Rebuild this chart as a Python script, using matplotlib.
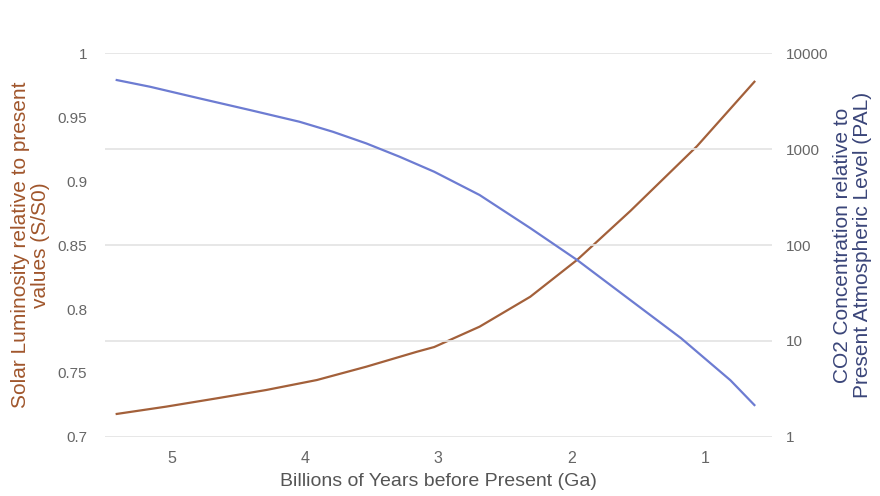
import matplotlib
matplotlib.use("Agg")
import matplotlib.pyplot as plt
from matplotlib.ticker import FixedLocator, FixedFormatter

plt.rcParams["font.family"] = ["Liberation Sans", "DejaVu Sans"]

# Age (Ga before present) and solar luminosity relative to today (S/S0)
lum_age = [5.41, 5.04, 4.66, 4.29, 3.91, 3.54, 3.16, 3.03, 2.69, 2.31, 1.96, 1.56, 1.06, 0.63]
lum_val = [0.718, 0.7237, 0.7302, 0.7367, 0.7445, 0.7549, 0.7666, 0.7703,
           0.7862, 0.8096, 0.8383, 0.8766, 0.9273, 0.9776]

# Age (Ga) and CO2 concentration relative to present atmospheric level (PAL)
co2_age = [5.41, 5.16, 4.79, 4.41, 4.04, 3.79, 3.54, 3.29, 3.03, 2.69, 2.31,
           1.96, 1.56, 1.18, 0.81, 0.63]
co2_val = [5236, 4457, 3373, 2547, 1925, 1514, 1146, 832, 580, 332, 150,
           70, 26.7, 10.7, 3.9, 2.15]

x_ticks = [5, 4, 3, 2, 1]
left_ticks = [0.7, 0.75, 0.8, 0.85, 0.9, 0.95, 1]
left_labels = ["0.7", "0.75", "0.8", "0.85", "0.9", "0.95", "1"]
right_ticks = [1, 10, 100, 1000, 10000]
right_labels = ["1", "10", "100", "1000", "10000"]

BROWN = "#a3603a"
BLUE = "#6d7cd2"
TICK_GREY = "#666666"
GRID = "#e3e3e3"

fig = plt.figure(figsize=(8.8, 4.96), dpi=100)
ax = fig.add_axes([0.119, 0.119, 0.758, 0.774])
ax2 = ax.twinx()

# Right axis (log scale) carries the horizontal gridlines
ax2.set_yscale("log")
ax2.set_ylim(1, 10000)
ax2.yaxis.set_major_locator(FixedLocator(right_ticks))
ax2.yaxis.set_major_formatter(FixedFormatter(right_labels))
ax2.yaxis.set_minor_locator(FixedLocator([]))
ax2.grid(True, axis="y", color=GRID, linewidth=1.2)
ax2.tick_params(axis="y", length=0, pad=10, labelsize=11, labelcolor=TICK_GREY)

ax.set_ylim(0.7, 1.0)
ax.set_yticks(left_ticks)
ax.set_yticklabels(left_labels)
ax.tick_params(axis="y", length=0, pad=12.5, labelsize=11, labelcolor=TICK_GREY)

ax.set_xlim(5.5, 0.5)
ax.set_xticks(x_ticks)
ax.tick_params(axis="x", length=0, pad=10, labelsize=11.5, labelcolor=TICK_GREY)

for a in (ax, ax2):
    for s in a.spines.values():
        s.set_visible(False)

ax.plot(lum_age, lum_val, color=BROWN, linewidth=1.6, zorder=3,
        solid_joinstyle="round")
ax2.plot(co2_age, co2_val, color=BLUE, linewidth=1.6, zorder=3,
         solid_joinstyle="round")

ax.set_xlabel("Billions of Years before Present (Ga)", fontsize=14,
              color="#555555", va="center")
ax.xaxis.set_label_coords(0.5, -0.117)

ax.set_ylabel("Solar Luminosity relative to present\nvalues (S/S0)",
              fontsize=15, color="#a0562c", linespacing=1.05, va="center")
ax.yaxis.set_label_coords(-0.111, 0.5)

ax2.set_ylabel("CO2 Concentration relative to\nPresent Atmospheric Level (PAL)",
               fontsize=15, color="#3a4579", rotation=90, linespacing=1.05,
               va="center")
ax2.yaxis.set_label_coords(1.121, 0.5)

fig.savefig("out.png", dpi=100, facecolor="white")
